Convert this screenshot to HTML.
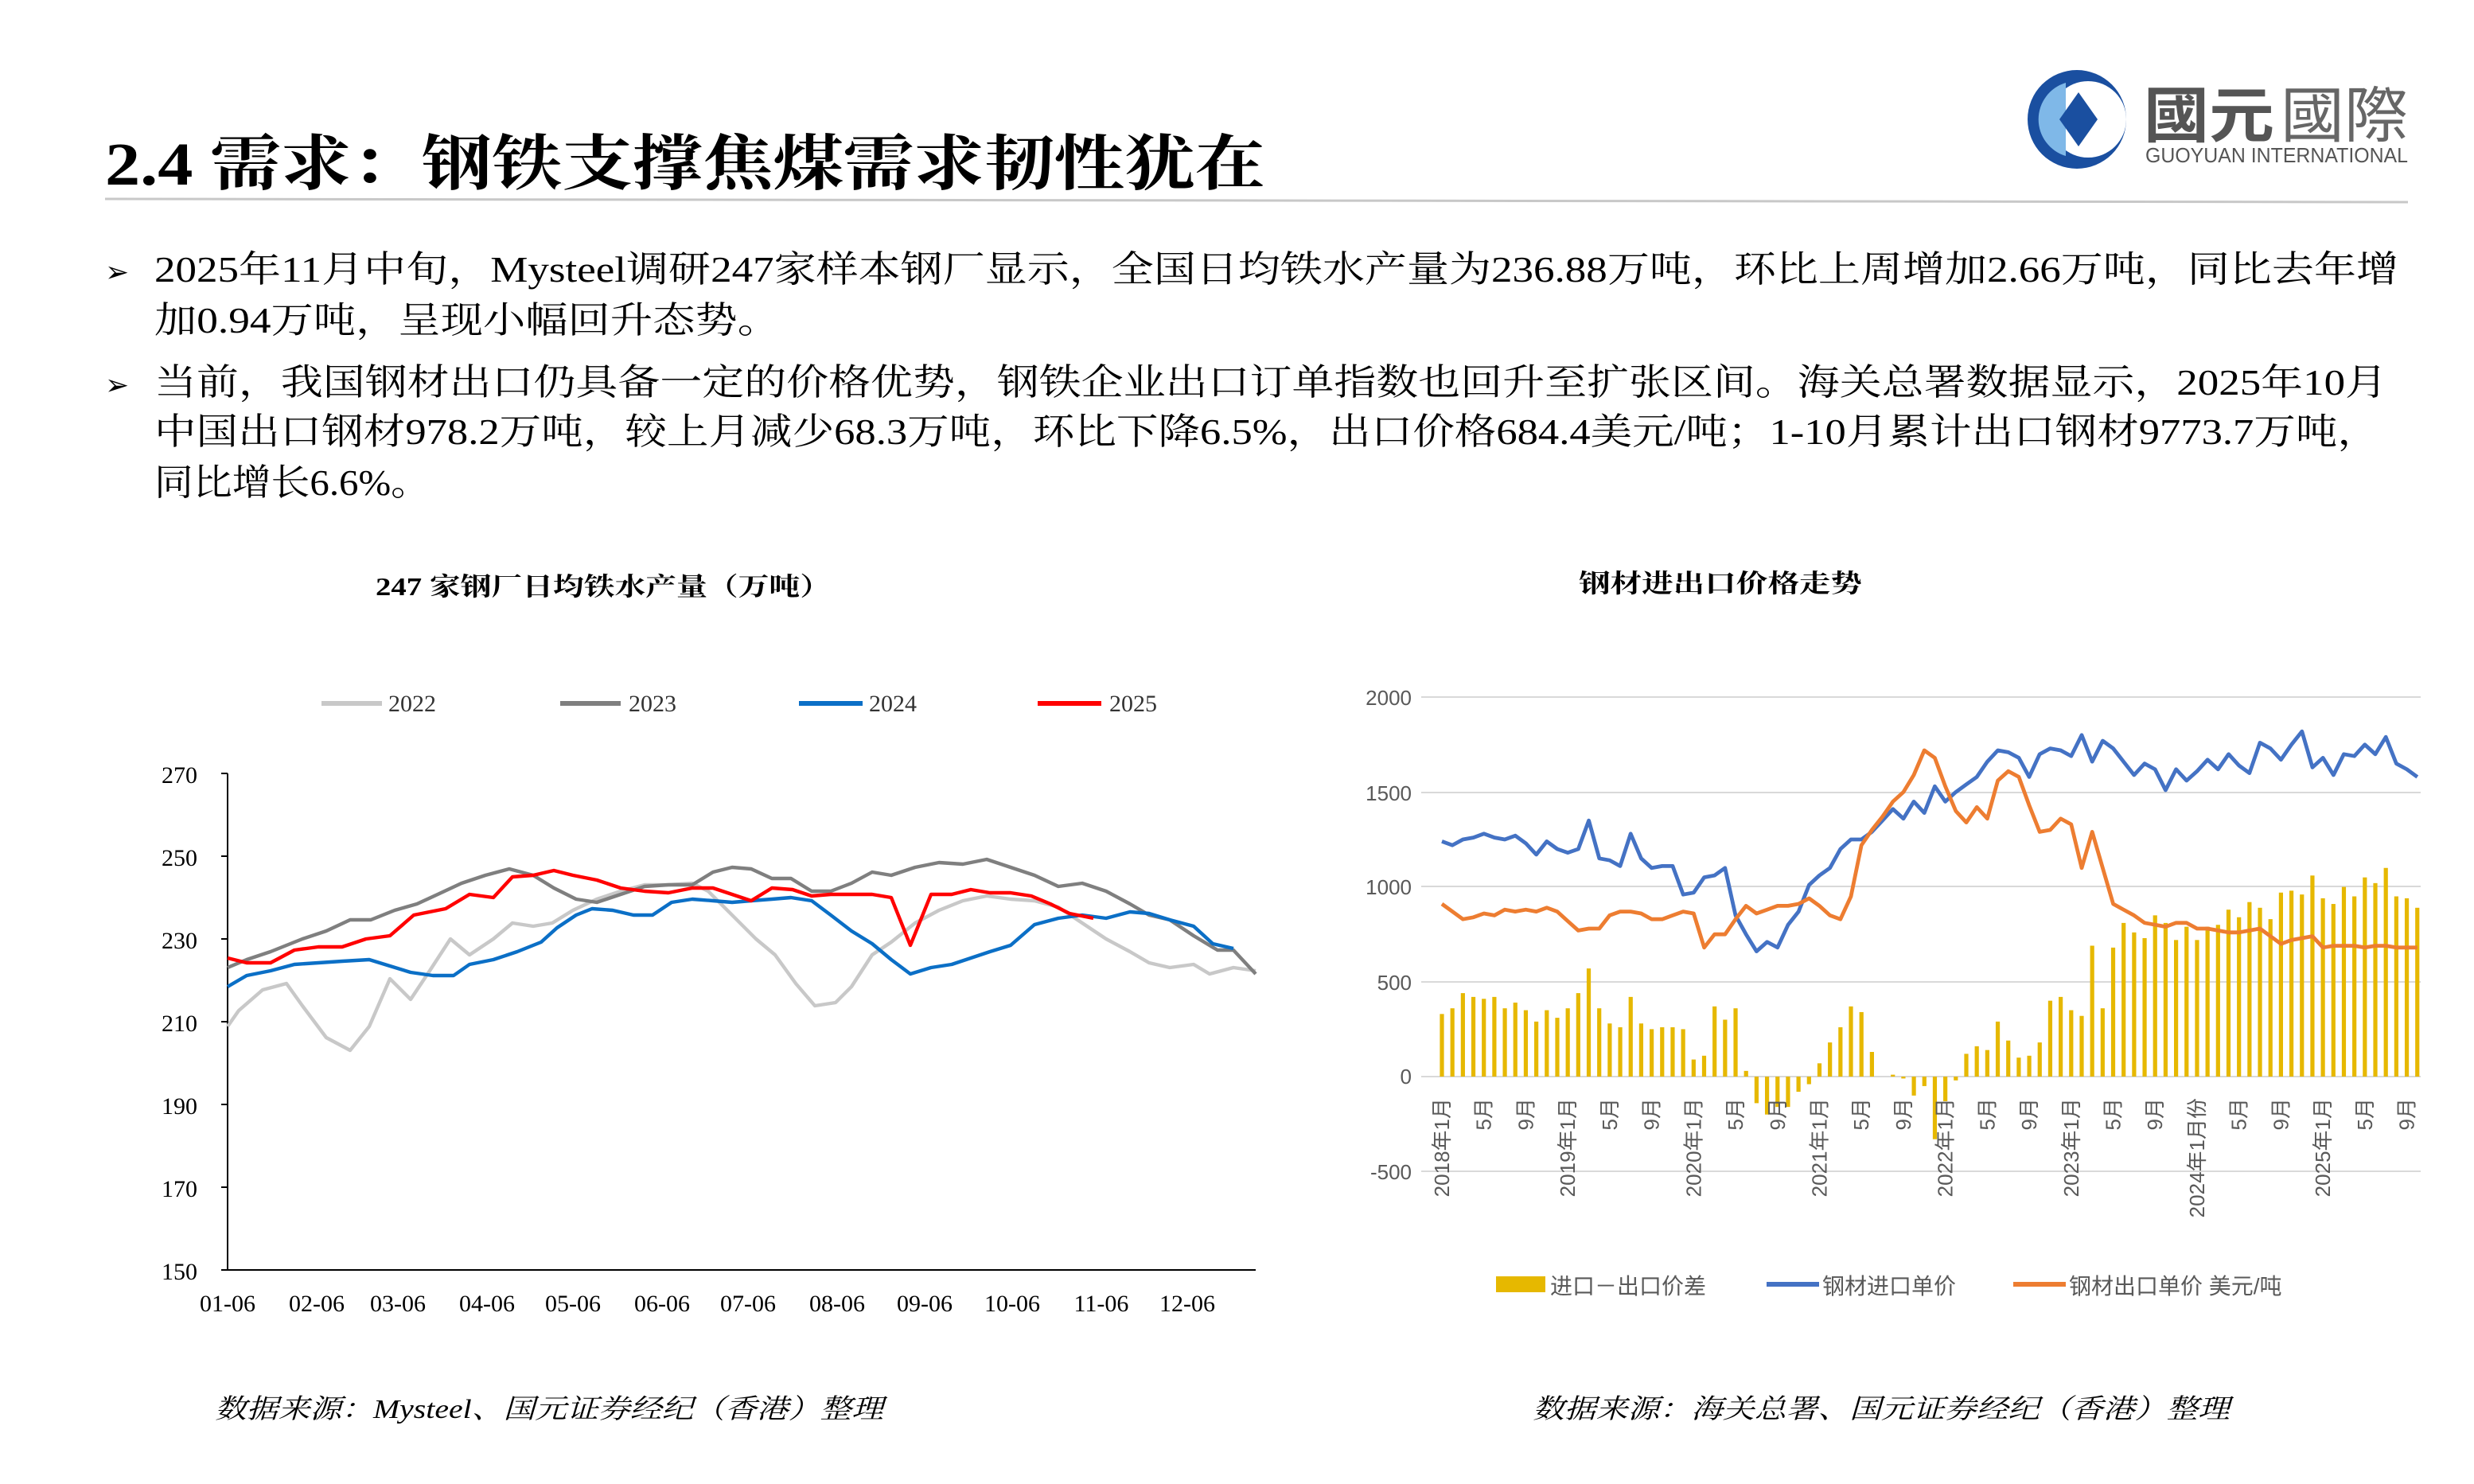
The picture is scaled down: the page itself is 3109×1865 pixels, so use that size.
<!DOCTYPE html>
<html><head><meta charset="utf-8"><style>
html,body{margin:0;padding:0;background:#fff;}
svg{display:block}
.serif{font-family:"Liberation Serif","Noto Serif CJK SC",serif;}
.sans{font-family:"Liberation Sans","Noto Sans CJK SC",sans-serif;}
</style></head><body>
<svg id="s" width="3109" height="1865" viewBox="0 0 1554.5 932.5" xmlns="http://www.w3.org/2000/svg">
<rect width="1554.5" height="932.5" fill="#fff"/>
<!-- title -->
<text x="66" y="116" class="serif" font-size="38" font-weight="bold" fill="#000" textLength="729" lengthAdjust="spacingAndGlyphs">2.4 需求：钢铁支撑焦煤需求韧性犹在</text>
<line x1="66" y1="125" x2="1513" y2="127" stroke="#c8c8c8" stroke-width="1.5"/>
<!-- logo -->
<circle cx="1305" cy="75" r="31" fill="#1a4fa0"/>
<circle cx="1312" cy="75" r="24" fill="#fff"/>
<path d="M1298 52 A24 24 0 0 0 1298 98 Z" fill="#7fb8e8"/>
<polygon points="1306,58 1318,75 1306,92 1294,75" fill="#1a4fa0"/>
<text x="1347" y="86" class="sans" font-size="38" font-weight="bold" fill="#555" textLength="82" lengthAdjust="spacingAndGlyphs">國元</text>
<text x="1433" y="86" class="sans" font-size="38" fill="#666" textLength="80" lengthAdjust="spacingAndGlyphs">國際</text>
<text x="1348" y="102" class="sans" font-size="13" fill="#555" textLength="165" lengthAdjust="spacingAndGlyphs">GUOYUAN INTERNATIONAL</text>
<!-- bullets -->
<g class="serif" font-size="23" fill="#000">
<text x="66" y="177" font-size="18">➢</text>
<text x="97" y="177" textLength="1410" lengthAdjust="spacingAndGlyphs">2025年11月中旬，Mysteel调研247家样本钢厂显示，全国日均铁水产量为236.88万吨，环比上周增加2.66万吨，同比去年增</text>
<text x="97" y="209" textLength="393" lengthAdjust="spacingAndGlyphs">加0.94万吨，呈现小幅回升态势。</text>
<text x="66" y="248" font-size="18">➢</text>
<text x="97" y="248" textLength="1403" lengthAdjust="spacingAndGlyphs">当前，我国钢材出口仍具备一定的价格优势，钢铁企业出口订单指数也回升至扩张区间。海关总署数据显示，2025年10月</text>
<text x="97" y="279" textLength="1398" lengthAdjust="spacingAndGlyphs">中国出口钢材978.2万吨，较上月减少68.3万吨，环比下降6.5%，出口价格684.4美元/吨；1-10月累计出口钢材9773.7万吨，</text>
<text x="97" y="311" textLength="173" lengthAdjust="spacingAndGlyphs">同比增长6.6%。</text>
</g>
<!-- left chart -->
<text x="236" y="374" class="serif" font-size="16" font-weight="bold" textLength="286" lengthAdjust="spacingAndGlyphs">247 家钢厂日均铁水产量（万吨）</text>
<g class="serif" font-size="15" fill="#333">
<line x1="202" y1="442" x2="240" y2="442" stroke="#c8c8c8" stroke-width="3"/><text x="244" y="447">2022</text>
<line x1="352" y1="442" x2="390" y2="442" stroke="#7f7f7f" stroke-width="3"/><text x="395" y="447">2023</text>
<line x1="502" y1="442" x2="542" y2="442" stroke="#0b6fc6" stroke-width="3"/><text x="546" y="447">2024</text>
<line x1="652" y1="442" x2="692" y2="442" stroke="#ff0000" stroke-width="3"/><text x="697" y="447">2025</text>
</g>
<g stroke="#000" stroke-width="1">
<line x1="143" y1="486" x2="143" y2="798"/><line x1="143" y1="798" x2="789" y2="798"/>
<line x1="139" y1="486" x2="143" y2="486"/><line x1="139" y1="538" x2="143" y2="538"/><line x1="139" y1="590" x2="143" y2="590"/><line x1="139" y1="642" x2="143" y2="642"/><line x1="139" y1="694" x2="143" y2="694"/><line x1="139" y1="746" x2="143" y2="746"/><line x1="139" y1="798" x2="143" y2="798"/>
</g>
<g class="serif" font-size="15" fill="#000" text-anchor="end">
<text x="124" y="492">270</text><text x="124" y="544">250</text><text x="124" y="596">230</text><text x="124" y="648">210</text><text x="124" y="700">190</text><text x="124" y="752">170</text><text x="124" y="804">150</text>
</g>
<g class="serif" font-size="15" fill="#000" text-anchor="middle">
<text x="143" y="824">01-06</text><text x="199" y="824">02-06</text><text x="250" y="824">03-06</text><text x="306" y="824">04-06</text><text x="360" y="824">05-06</text><text x="416" y="824">06-06</text><text x="470" y="824">07-06</text><text x="526" y="824">08-06</text><text x="581" y="824">09-06</text><text x="636" y="824">10-06</text><text x="692" y="824">11-06</text><text x="746" y="824">12-06</text>
</g>
<g fill="none" stroke-width="2.2" stroke-linejoin="round">
<polyline stroke="#c8c8c8" points="143,645 150,635 165,622 180,618 190,632 205,652 220,660 232,645 245,615 258,628 270,610 283,590 295,600 310,590 322,580 335,582 347,580 360,572 375,565 390,560 405,556 420,556 435,555 445,560 460,575 475,590 487,600 500,618 512,632 525,630 535,620 548,600 560,592 575,580 590,572 605,566 620,563 635,565 650,566 665,570 680,580 695,590 710,598 722,605 735,608 750,606 760,612 775,608 789,610"/>
<polyline stroke="#7f7f7f" points="143,608 155,603 170,598 190,590 205,585 220,578 233,578 248,572 262,568 275,562 290,555 305,550 320,546 335,550 348,558 362,565 375,567 390,562 405,557 420,556 435,556 448,548 460,545 472,546 485,552 497,552 510,560 522,560 535,555 548,548 560,550 575,545 590,542 605,543 620,540 635,545 650,550 665,557 680,555 695,560 710,568 722,575 735,578 750,588 765,597 775,597 789,612"/>
<polyline stroke="#0b6fc6" points="143,620 155,613 170,610 185,606 200,605 215,604 232,603 245,607 258,611 272,613 285,613 295,606 310,603 325,598 340,592 350,583 362,575 372,571 385,572 398,575 410,575 422,567 435,565 448,566 460,567 472,566 485,565 497,564 510,566 522,575 535,585 548,593 560,603 572,612 585,608 598,606 610,602 622,598 635,594 650,581 665,577 680,575 695,577 710,573 722,574 735,578 750,582 762,593 775,596"/>
<polyline stroke="#ff0000" points="143,602 155,605 170,605 185,597 200,595 215,595 230,590 245,588 260,575 280,571 295,562 310,564 322,551 335,550 348,547 360,550 375,553 390,558 405,560 420,561 435,558 448,558 460,562 472,566 485,558 498,559 510,563 522,562 535,562 548,562 560,564 572,594 585,562 598,562 610,559 622,561 635,561 648,563 660,568 672,574 687,577"/>
</g>
<text x="135" y="891" class="serif" font-size="17" font-style="italic" fill="#000" textLength="420" lengthAdjust="spacingAndGlyphs">数据来源：Mysteel、国元证券经纪（香港）整理</text>
<!-- right chart -->
<text x="992" y="372" class="serif" font-size="16" font-weight="bold" textLength="178" lengthAdjust="spacingAndGlyphs">钢材进出口价格走势</text>
<g stroke="#d9d9d9" stroke-width="1">
<line x1="893" y1="438" x2="1521" y2="438"/><line x1="893" y1="498" x2="1521" y2="498"/><line x1="893" y1="557" x2="1521" y2="557"/><line x1="893" y1="617" x2="1521" y2="617"/><line x1="893" y1="736" x2="1521" y2="736"/>
</g>
<g class="sans" font-size="13" fill="#595959" text-anchor="end">
<text x="887" y="443">2000</text><text x="887" y="503">1500</text><text x="887" y="562">1000</text><text x="887" y="622">500</text><text x="887" y="681">0</text><text x="887" y="741">-500</text>
</g>
<g id="rc"></g>
<g class="sans" font-size="14" fill="#595959">
<rect x="940" y="802" width="31" height="10" fill="#e6b800"/><text x="974" y="813">进口－出口价差</text>
<line x1="1110" y1="807" x2="1143" y2="807" stroke="#4472c4" stroke-width="3"/><text x="1145" y="813">钢材进口单价</text>
<line x1="1265" y1="807" x2="1298" y2="807" stroke="#ed7d31" stroke-width="3"/><text x="1300" y="813">钢材出口单价 美元/吨</text>
</g>
<text x="963" y="891" class="serif" font-size="17" font-style="italic" fill="#000" textLength="438" lengthAdjust="spacingAndGlyphs">数据来源：海关总署、国元证券经纪（香港）整理</text>
</svg>
<script>
var bars=[330,360,440,420,410,420,360,390,350,290,350,310,360,440,570,360,280,260,420,280,250,260,260,250,90,110,370,300,360,30,-140,-200,-160,-160,-80,-40,70,180,260,370,340,130,0,10,-10,-100,-50,-330,-130,-20,120,160,140,290,190,100,110,180,400,420,350,320,690,360,680,810,760,730,850,810,720,790,720,790,800,880,840,920,890,830,970,980,960,1060,940,910,1000,950,1050,1020,1100,950,940,890];
var imp=[1240,1220,1250,1260,1280,1260,1250,1270,1230,1170,1240,1200,1180,1200,1350,1150,1140,1110,1280,1150,1100,1110,1110,960,970,1050,1060,1100,850,750,660,710,680,800,870,1010,1060,1100,1200,1250,1250,1290,1350,1410,1360,1450,1390,1530,1450,1500,1540,1580,1660,1720,1710,1680,1580,1700,1730,1720,1690,1800,1660,1770,1730,1660,1590,1650,1620,1510,1620,1560,1610,1670,1620,1700,1640,1600,1760,1730,1670,1750,1820,1630,1680,1590,1700,1690,1750,1700,1790,1650,1620,1580];
var exp=[910,870,830,840,860,850,880,870,880,870,890,870,820,770,780,780,850,870,870,860,830,830,850,870,860,680,750,750,830,900,860,880,900,900,910,940,900,850,830,950,1220,1300,1370,1450,1500,1590,1720,1680,1530,1400,1340,1420,1360,1560,1610,1580,1430,1290,1300,1360,1330,1100,1290,1100,910,880,850,810,800,790,810,810,780,780,770,760,760,770,780,740,700,720,730,740,680,690,690,690,680,690,690,680,680,680];
function X(i){return 906+i*6.59;}function Y(v){return 676.5-v*0.1192;}
var h='<line x1="893" y1="676.5" x2="1521" y2="676.5" stroke="#d9d9d9"/>';
for(var i=0;i<bars.length;i++){var y=Y(bars[i]);h+='<rect x="'+(X(i)-1.3)+'" y="'+Math.min(y,676.5)+'" width="2.6" height="'+Math.abs(676.5-y)+'" fill="#e6b800"/>';}
function pl(a,c){var p=a.map(function(v,i){return X(i).toFixed(1)+','+Y(v).toFixed(1)}).join(' ');return '<polyline fill="none" stroke="'+c+'" stroke-width="2.4" stroke-linejoin="round" points="'+p+'"/>';}
h+=pl(imp,'#4472c4')+pl(exp,'#ed7d31');
for(var i=0;i<94;i++){var m=i%12,l='';if(m==0)l=(i==72?'2024年1月份':(2018+i/12)+'年1月');else if(m==4)l='5月';else if(m==8)l='9月';
if(l)h+='<text transform="translate('+(X(i)+4.5)+',690) rotate(-90)" text-anchor="end" font-family="Liberation Sans,Noto Sans CJK SC,sans-serif" font-size="13" fill="#595959">'+l+'</text>';}
document.getElementById('rc').innerHTML=h;
</script>
</body></html>
